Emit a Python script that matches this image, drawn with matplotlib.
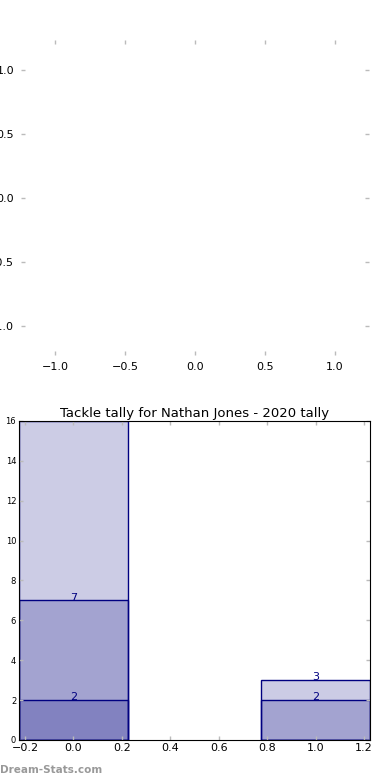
import numpy as np
import matplotlib
matplotlib.use("Agg")
import matplotlib.pyplot as plt

# data
positions = [0, 1]
total_tackles = [16, 3]
solo_tackles = [7, 2]
assisted_tackles = [2, 0]
bar_width = 0.45
title = "Tackle tally for Nathan Jones - 2020 tally"

fig = plt.figure(figsize=(3.9, 7.8), dpi=100)

# top panel: empty pie-like axes
ax_top = fig.add_axes([0.0538, 0.5449, 0.892, 0.4038])
ax_top.set_xlim(-1.243, 1.243)
ax_top.set_ylim(-1.227, 1.234)
ax_top.set_xticks([-1.0, -0.5, 0.0, 0.5, 1.0])
ax_top.set_yticks([-1.0, -0.5, 0.0, 0.5, 1.0])
for s in ax_top.spines.values():
    s.set_visible(False)
ax_top.tick_params(direction="in", length=3, width=1, color="#bbbbbb",
                   top=True, right=True, labelsize=8, pad=5)

# bottom panel: overlapping bars
ax = fig.add_axes([0.0487, 0.0513, 0.9, 0.409])
for series in [total_tackles, solo_tackles, assisted_tackles]:
    ax.bar(positions, series, width=bar_width, color="navy", alpha=0.2,
           edgecolor="none")
    ax.bar(positions, series, width=bar_width, color="none",
           edgecolor="navy", linewidth=1)

ymax = 16
for series in [total_tackles, solo_tackles, assisted_tackles]:
    for x, v in zip(positions, series):
        # labels at the very top of the axes are not shown
        if 0 < v < ymax:
            ax.annotate(str(v), (x, v), xytext=(0, 2), textcoords="offset points",
                        ha="center", va="center", color="navy", fontsize=8)

ax.set_xlim(-0.225, 1.225)
ax.set_ylim(0, ymax)
ax.set_xticks([-0.2, 0.0, 0.2, 0.4, 0.6, 0.8, 1.0, 1.2])
ax.set_yticks(np.arange(0, 17, 2))
ax.tick_params(direction="in", length=3, width=1, color="#bbbbbb",
               top=True, right=True)
ax.tick_params(axis="x", labelsize=8, pad=2)
ax.tick_params(axis="y", labelsize=6, pad=2)
ax.set_title(title, fontsize=9.5, pad=3)

fig.text(0.0, 0.013, "Dream-Stats.com", color="#999999", fontsize=7.5,
         fontweight="bold", ha="left", va="center")

fig.savefig("out.png", dpi=100)
